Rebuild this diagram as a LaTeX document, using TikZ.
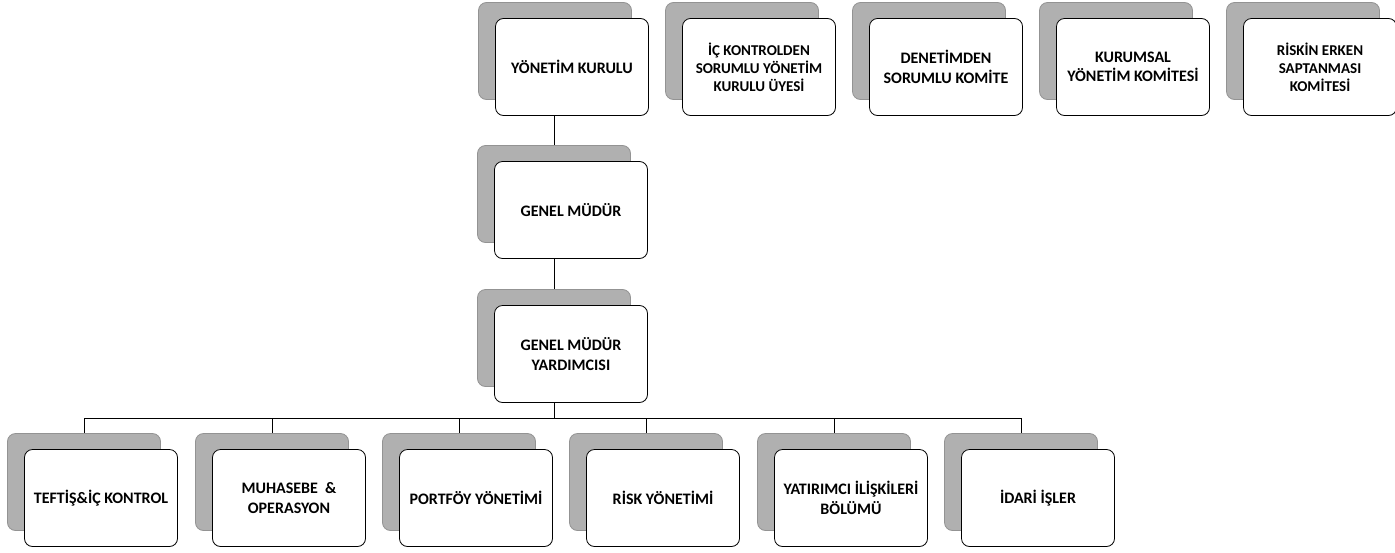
\documentclass[tikz,border=0pt]{standalone}
\usepackage{fontspec}
\setmainfont{Carlito}
\usetikzlibrary{shadows}

\begin{document}
\begin{tikzpicture}[x=1pt,y=-1pt,line width=0.8pt,
        every node/.append style={font=\bfseries\fontsize{16}{19.5}\selectfont}]
      \tikzstyle{unit} = [draw=black,fill=white,rounded corners=8pt,
        minimum width=153pt,minimum height=97pt,align=center,inner sep=1pt,
        general shadow={fill=gray!62,draw=gray!85,shadow xshift=-17pt,shadow yshift=16pt}]
      \tikzstyle{tight} = [font=\bfseries\fontsize{15}{18}\selectfont]
      \useasboundingbox (0,0) rectangle (1395,552);
      \node (yonetimkurulu) [unit] at (572,67) {YÖNETİM KURULU};
      \node (ickontrol) [unit,tight] at (759,67) {İÇ KONTROLDEN\\SORUMLU YÖNETİM\\KURULU ÜYESİ};
      \node (denetim) [unit] at (946,67) {DENETİMDEN\\SORUMLU KOMİTE};
      \node (kurumsal) [unit] at (1133,67) {KURUMSAL\\YÖNETİM KOMİTESİ};
      \node (riskinerken) [unit,tight] at (1320,67) {RİSKİN ERKEN\\SAPTANMASI\\KOMİTESİ};
      \node (genelmudur) [unit] at (571,210) {GENEL MÜDÜR};
      \node (yardimcisi) [unit] at (571,354) {GENEL MÜDÜR\\YARDIMCISI};
      \node (teftis) [unit] at (101,498) {TEFTİŞ\&İÇ KONTROL};
      \node (muhasebe) [unit] at (289,498) {MUHASEBE \ \&\\OPERASYON};
      \node (portfoy) [unit] at (476,498) {PORTFÖY YÖNETİMİ};
      \node (riskyonetimi) [unit] at (663,498) {RİSK YÖNETİMİ};
      \node (yatirimci) [unit] at (851,498) {YATIRIMCI İLİŞKİLERİ\\BÖLÜMÜ};
      \node (idari) [unit] at (1038,498) {İDARİ İŞLER};
      \draw ([xshift=-18pt]yonetimkurulu.south) -- ([xshift=-17pt,yshift=16pt]genelmudur.north);
      \draw ([xshift=-17pt]genelmudur.south) -- ([xshift=-17pt,yshift=16pt]yardimcisi.north);
      \coordinate (bus) at (554,418);
      \draw ([xshift=-17pt]yardimcisi.south) -- (bus);
      \foreach \n in {teftis,muhasebe,portfoy,riskyonetimi,yatirimci,idari}
        \draw (bus) -| ([xshift=-17pt,yshift=16pt]\n.north);
    \end{tikzpicture}
\end{document}
